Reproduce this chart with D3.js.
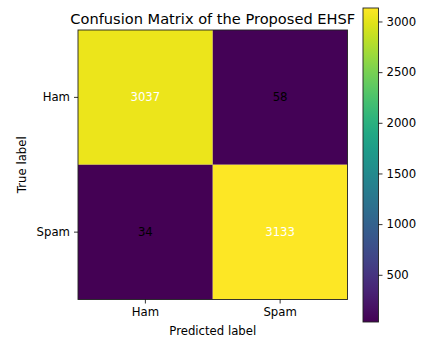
<!DOCTYPE html>
<html>
<head>
<meta charset="utf-8">
<script src="https://cdn.jsdelivr.net/npm/d3@7"></script>
<style>
  html, body { margin: 0; padding: 0; background: #fff; }
  svg { display: block; font-family: "DejaVu Sans", sans-serif; }
</style>
</head>
<body>
<svg id="chart" width="426" height="343"></svg>
<script>
// Class labels and confusion counts (rows = true label, columns = predicted label)
const trueLabels = ["Ham", "Spam"];
const predLabels = ["Ham", "Spam"];
const counts = [
  [3037, 58],
  [34, 3133]
];
const colorbarTicks = [500, 1000, 1500, 2000, 2500, 3000];
const titleText = "Confusion Matrix of the Proposed EHSF";

const svg = d3.select("#chart");
const fs = 11.7;      // tick / label font size
const titleFs = 14.6; // title font size

// Layout of the matrix and the colour bar
const plot = { left: 78, top: 30, size: 269.5 };
const cbar = { left: 363, top: 8, width: 15.5, height: 314 };

const flat = counts.flat();
const vmin = d3.min(flat), vmax = d3.max(flat);
const color = d3.scaleSequential(d3.interpolateViridis).domain([vmin, vmax]);

const x = d3.scaleBand().domain(predLabels).range([plot.left, plot.left + plot.size]);
const y = d3.scaleBand().domain(trueLabels).range([plot.top, plot.top + plot.size]);

// Cells
const cells = [];
trueLabels.forEach((t, i) => predLabels.forEach((p, j) => cells.push({ t, p, v: counts[i][j] })));

svg.append("g").selectAll("rect").data(cells).join("rect")
  .attr("x", d => x(d.p))
  .attr("y", d => y(d.t))
  .attr("width", x.bandwidth())
  .attr("height", y.bandwidth())
  .attr("fill", d => color(d.v));

// Value annotations: light text on bright cells, dark on dark cells
const mid = (vmin + vmax) / 2;
svg.append("g").selectAll("text").data(cells).join("text")
  .attr("x", d => x(d.p) + x.bandwidth() / 2)
  .attr("y", d => y(d.t) + y.bandwidth() / 2)
  .attr("text-anchor", "middle")
  .attr("dominant-baseline", "central")
  .attr("font-size", fs)
  .attr("fill", d => d.v > mid ? "#ffffff" : "#000000")
  .text(d => d.v);

// Frame around the matrix
svg.append("rect")
  .attr("x", plot.left).attr("y", plot.top)
  .attr("width", plot.size).attr("height", plot.size)
  .attr("fill", "none").attr("stroke", "#222").attr("stroke-width", 0.9);

// Axes
const xAxis = d3.axisBottom(x).tickSize(4).tickPadding(4);
const yAxis = d3.axisLeft(y).tickSize(4).tickPadding(4);

const gx = svg.append("g").attr("transform", `translate(0,${plot.top + plot.size})`).call(xAxis);
const gy = svg.append("g").attr("transform", `translate(${plot.left},0)`).call(yAxis);
[gx, gy].forEach(g => {
  g.select(".domain").remove();
  g.selectAll("text").attr("font-size", fs).attr("fill", "#000").attr("font-family", "DejaVu Sans, sans-serif");
  g.selectAll("line").attr("stroke", "#000").attr("stroke-width", 0.8);
});

// Axis titles
svg.append("text")
  .attr("x", plot.left + plot.size / 2).attr("y", 334.5)
  .attr("text-anchor", "middle").attr("font-size", fs).attr("fill", "#000")
  .text("Predicted label");

svg.append("text")
  .attr("transform", `translate(26,${plot.top + plot.size / 2}) rotate(-90)`)
  .attr("text-anchor", "middle").attr("font-size", fs).attr("fill", "#000")
  .text("True label");

// Title
svg.append("text")
  .attr("x", plot.left + plot.size / 2).attr("y", 23.5)
  .attr("text-anchor", "middle").attr("font-size", titleFs).attr("fill", "#000")
  .text(titleText);

// Colour bar
const defs = svg.append("defs");
const grad = defs.append("linearGradient").attr("id", "cbarGrad")
  .attr("x1", 0).attr("y1", 1).attr("x2", 0).attr("y2", 0);
d3.range(0, 1.0001, 0.05).forEach(t => {
  grad.append("stop").attr("offset", t).attr("stop-color", d3.interpolateViridis(t));
});

const cy = d3.scaleLinear().domain([vmin, vmax]).range([cbar.top + cbar.height, cbar.top]);

svg.append("rect")
  .attr("x", cbar.left).attr("y", cbar.top)
  .attr("width", cbar.width).attr("height", cbar.height)
  .attr("fill", "url(#cbarGrad)")
  .attr("stroke", "#222").attr("stroke-width", 0.9);

const gc = svg.append("g")
  .attr("transform", `translate(${cbar.left + cbar.width},0)`)
  .call(d3.axisRight(cy).tickValues(colorbarTicks).tickFormat(d3.format("d")).tickSize(4).tickPadding(4));
gc.select(".domain").remove();
gc.selectAll("text").attr("font-size", fs).attr("fill", "#000").attr("font-family", "DejaVu Sans, sans-serif");
gc.selectAll("line").attr("stroke", "#000").attr("stroke-width", 0.8);
</script>
</body>
</html>
